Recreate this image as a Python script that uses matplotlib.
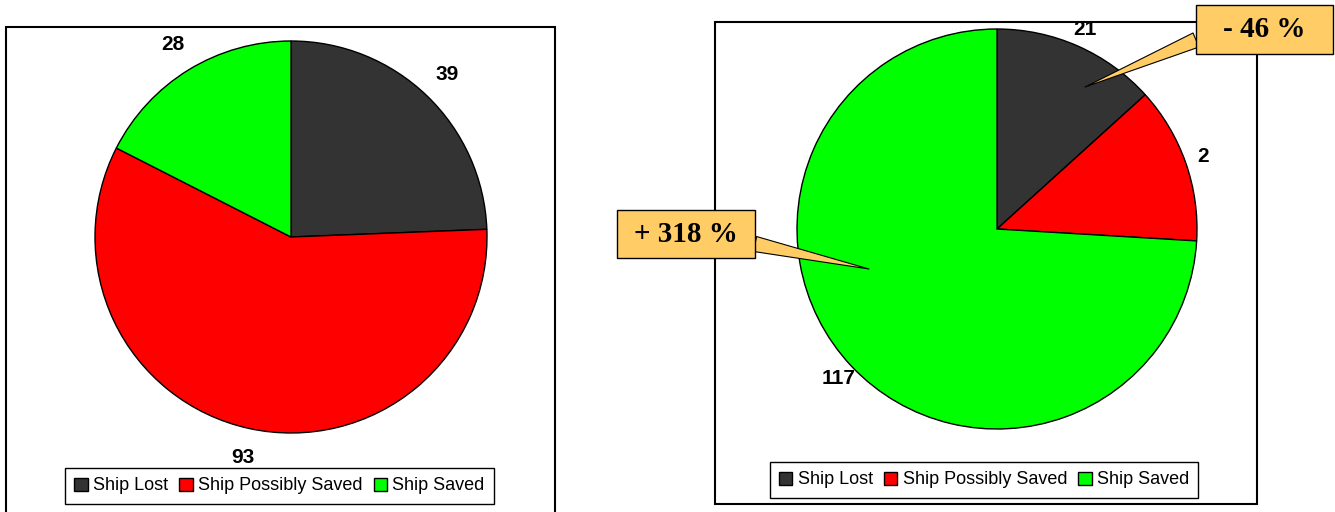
import matplotlib
matplotlib.use("Agg")
import matplotlib.pyplot as plt
from matplotlib.patches import Rectangle, Patch

categories = ["Ship Lost", "Ship Possibly Saved", "Ship Saved"]
colors = ["#333333", "#FF0000", "#00FF00"]

left_values = [39, 93, 28]
left_labels = ["39", "93", "28"]

right_values = [21, 20, 117]
right_labels = ["21", "2", "117"]

callout_texts = ["- 46 %", "+ 318 %"]

W, H = 1335, 512
fig = plt.figure(figsize=(W / 100, H / 100), dpi=100)
fig.patch.set_facecolor("white")


def px_axes(cx, cy, r):
    return fig.add_axes([(cx - r) / W, 1 - (cy + r) / H, 2 * r / W, 2 * r / H])


label_font = dict(family="Liberation Sans", weight="bold", size=15, color="black",
                  ha="center", va="center")

# frames
fig.add_artist(Rectangle((6 / W, 1 - 520 / H), (555 - 6) / W, (520 - 27) / H,
                         transform=fig.transFigure, fill=False, edgecolor="black",
                         linewidth=1.5, zorder=1))
fig.add_artist(Rectangle((715 / W, 1 - 504 / H), (1257 - 715) / W, (504 - 22) / H,
                         transform=fig.transFigure, fill=False, edgecolor="black",
                         linewidth=1.5, zorder=1))

# left pie
axL = px_axes(291, 237, 196)
axL.pie(left_values, labels=left_labels, colors=colors, startangle=90,
        counterclock=False, labeldistance=1.15, radius=1,
        wedgeprops=dict(edgecolor="black", linewidth=1.0),
        textprops=label_font)
axL.set_xlim(-1, 1)
axL.set_ylim(-1, 1)
axL.set_aspect("auto")
axL.axis("off")

# right pie
axR = px_axes(997, 229, 200)
axR.pie(right_values, labels=right_labels, colors=colors, startangle=90,
        counterclock=False, labeldistance=1.09, radius=1,
        wedgeprops=dict(edgecolor="black", linewidth=1.0),
        textprops=label_font)
axR.set_xlim(-1, 1)
axR.set_ylim(-1, 1)
axR.set_aspect("auto")
axR.axis("off")

# legends
handles = [Patch(facecolor=c, edgecolor="black", linewidth=1.0) for c in colors]
for (cx, cy) in [(279.5, 486), (984, 480)]:
    leg = fig.legend(handles, categories, loc="center", ncol=3,
                     bbox_to_anchor=(cx / W, 1 - cy / H),
                     prop=dict(family="Liberation Sans", size=13.0),
                     handlelength=0.75, handleheight=0.75, handletextpad=0.3,
                     columnspacing=0.6, borderpad=0.5, fancybox=False,
                     frameon=True, edgecolor="black", framealpha=1)
    leg.get_frame().set_linewidth(1.0)
    leg.set_zorder(2)

# callouts
callouts = [
    (callout_texts[0], (1196, 5, 1333, 54), (1196, 40), (0.44, 0.71)),
    (callout_texts[1], (617, 210, 755, 258), (755, 244), (-0.64, -0.20)),
]
for txt, (x0, y0, x1, y1), (tx, ty), tip in callouts:
    axR.annotate("", xy=tip, xycoords="data",
                 xytext=(tx, H - ty), textcoords="figure pixels",
                 annotation_clip=False,
                 arrowprops=dict(arrowstyle="wedge,tail_width=1.1,shrink_factor=0.5",
                                 facecolor="#FFCC66", edgecolor="black",
                                 linewidth=0.8, shrinkA=0, shrinkB=0))
    fig.add_artist(Rectangle((x0 / W, 1 - y1 / H), (x1 - x0) / W, (y1 - y0) / H,
                             transform=fig.transFigure, facecolor="#FFCC66",
                             edgecolor="black", linewidth=1.0, zorder=3))
    fig.text((x0 + x1) / 2 / W, 1 - (y0 + y1) / 2 / H, txt,
             family="Liberation Serif", weight="bold", size=21,
             ha="center", va="center", zorder=4)

fig.savefig("out.png", dpi=100, facecolor="white")
